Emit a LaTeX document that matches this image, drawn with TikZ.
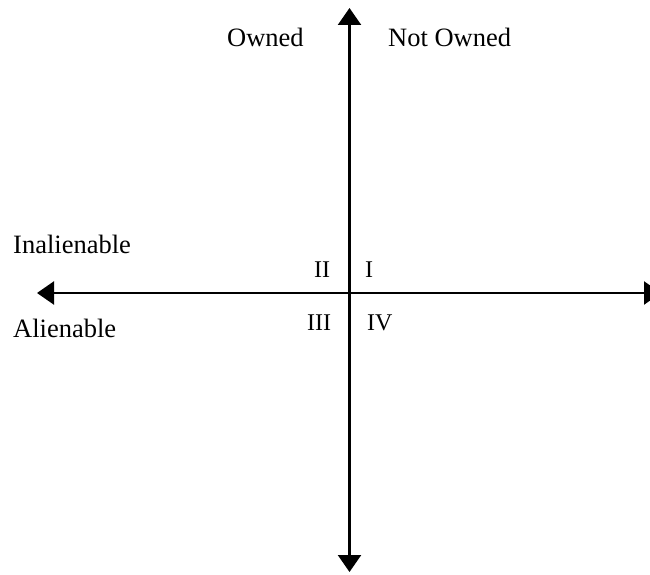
\documentclass[tikz,border=0pt]{standalone}
\usepackage{fontspec}
\setmainfont{Liberation Serif}
\usetikzlibrary{arrows.meta}
\begin{document}
\begin{tikzpicture}[x=1pt,y=-1pt,
  axis/.style={line width=2.3pt, -{Triangle[width=23pt,length=17pt]}},
  lbl/.style={inner sep=0pt, anchor=base west, font=\fontsize{26.5}{30}\selectfont},
  num/.style={inner sep=0pt, anchor=base west, font=\fontsize{24}{28}\selectfont}]
\useasboundingbox (0,0) rectangle (650,575);
\coordinate (o) at (349.5,293);
\coordinate (top) at (349.5,8);
\coordinate (bot) at (349.5,572);
\coordinate (lft) at (37,293);
\coordinate (rgt) at (661,293);
\draw[axis] (o) -- (top);
\draw[axis] (o) -- (bot);
\draw[axis] (o) -- (lft);
\draw[axis] (o) -- (rgt);
\node[lbl] (owned) at (227,47) {Owned};
\node[lbl] (notowned) at (388,47) {Not Owned};
\node[lbl] (inal) at (13,253) {Inalienable};
\node[lbl] (alien) at (13,337) {Alienable};
\node[num] (q2) at (314,277) {II};
\node[num] (q1) at (365,277) {I};
\node[num] (q3) at (307,330) {III};
\node[num] (q4) at (367,330) {IV};
\end{tikzpicture}
\end{document}
